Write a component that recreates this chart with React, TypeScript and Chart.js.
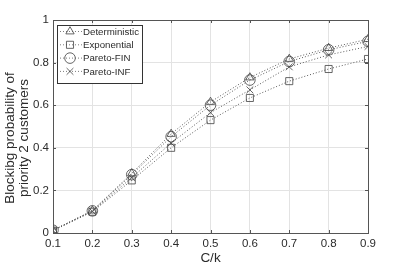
import React, { useEffect, useRef } from "react";
import { Chart, registerables } from "chart.js";

Chart.register(...registerables);

const ratios = [0.1, 0.2, 0.3, 0.4, 0.5, 0.6, 0.7, 0.8, 0.9];
const deterministic = [0.013, 0.105, 0.28, 0.465, 0.615, 0.73, 0.817, 0.868, 0.91];
const exponential = [0.011, 0.1, 0.247, 0.4, 0.53, 0.634, 0.713, 0.77, 0.817];
const paretoFin = [0.013, 0.104, 0.274, 0.452, 0.6, 0.718, 0.805, 0.86, 0.9];
const paretoInf = [0.012, 0.102, 0.26, 0.422, 0.565, 0.672, 0.78, 0.836, 0.876];

const seriesNames = ["Deterministic", "Exponential", "Pareto-FIN", "Pareto-INF"];
const seriesStyles = ["triangle", "rect", "circle", "crossRot"];
const seriesRadius = [4.8, 5, 5.3, 4.8];
const yTitleLines = ["Blockibg probability of", "priority 2 customers"];
const xTitle = "C/k";

const FONT = '"Liberation Sans", Arial, sans-serif';
const TXT = "#2b2b2b";
const LINE = "#5a5a5a";
const MARK = "#404040";

function drawMarker(ctx: CanvasRenderingContext2D, style: string, x: number, y: number, r: number) {
  ctx.beginPath();
  if (style === "triangle") {
    ctx.moveTo(x, y - r);
    ctx.lineTo(x + r * Math.sin(Math.PI / 3), y + r * 0.5);
    ctx.lineTo(x - r * Math.sin(Math.PI / 3), y + r * 0.5);
    ctx.closePath();
  } else if (style === "rect") {
    const h = r * Math.SQRT1_2;
    ctx.rect(x - h, y - h, 2 * h, 2 * h);
  } else if (style === "circle") {
    ctx.arc(x, y, r, 0, Math.PI * 2);
  } else {
    const h = r * Math.SQRT1_2;
    ctx.moveTo(x - h, y - h);
    ctx.lineTo(x + h, y + h);
    ctx.moveTo(x + h, y - h);
    ctx.lineTo(x - h, y + h);
  }
  ctx.stroke();
}

const framePlugin = {
  id: "frame",
  afterDraw(chart: any) {
    const ctx: CanvasRenderingContext2D = chart.ctx;
    const { left, right, top, bottom } = chart.chartArea;
    const xs = chart.scales.x;
    const ys = chart.scales.y;
    ctx.save();
    ctx.strokeStyle = "#555555";
    ctx.lineWidth = 1;
    ctx.setLineDash([]);
    ctx.strokeRect(Math.round(left) + 0.5, Math.round(top) + 0.5, Math.round(right - left), Math.round(bottom - top));
    const tl = 3;
    ctx.beginPath();
    xs.ticks.forEach((t: any) => {
      const px = Math.round(xs.getPixelForValue(t.value)) + 0.5;
      ctx.moveTo(px, bottom);
      ctx.lineTo(px, bottom - tl);
      ctx.moveTo(px, top);
      ctx.lineTo(px, top + tl);
    });
    ys.ticks.forEach((t: any) => {
      const py = Math.round(ys.getPixelForValue(t.value)) + 0.5;
      ctx.moveTo(left, py);
      ctx.lineTo(left + tl, py);
      ctx.moveTo(right, py);
      ctx.lineTo(right - tl, py);
    });
    ctx.stroke();

    ctx.fillStyle = TXT;
    ctx.font = `13.5px ${FONT}`;
    ctx.textAlign = "center";
    ctx.textBaseline = "middle";
    const cy = 138;
    [10, 24].forEach((cx, i) => {
      ctx.save();
      ctx.translate(cx, cy);
      ctx.rotate(-Math.PI / 2);
      ctx.fillText(yTitleLines[i], 0, 0);
      ctx.restore();
    });
    ctx.fillText(xTitle, (left + right) / 2, 258);

    const bx = 57.5, by = 25.5, bw = 85, bh = 58;
    ctx.fillStyle = "#ffffff";
    ctx.fillRect(bx, by, bw, bh);
    ctx.strokeStyle = "#333333";
    ctx.strokeRect(bx, by, bw, bh);
    ctx.font = `9.7px ${FONT}`;
    ctx.textAlign = "left";
    seriesNames.forEach((name, i) => {
      const ry = 31.5 + i * 13.3;
      ctx.strokeStyle = LINE;
      ctx.lineWidth = 0.8;
      ctx.setLineDash([1, 2]);
      ctx.beginPath();
      ctx.moveTo(60, ry);
      ctx.lineTo(82, ry);
      ctx.stroke();
      ctx.setLineDash([]);
      ctx.strokeStyle = MARK;
      drawMarker(ctx, seriesStyles[i], 70, ry, seriesRadius[i]);
      ctx.fillStyle = TXT;
      ctx.fillText(name, 83, ry + 0.5);
    });
    ctx.restore();
  },
};

export default function App() {
  const ref = useRef<HTMLCanvasElement | null>(null);
  useEffect(() => {
    if (!ref.current) return;
    const series = [deterministic, exponential, paretoFin, paretoInf];
    const chart = new Chart(ref.current, {
      type: "line",
      data: {
        datasets: series.map((vals, i) => ({
          label: seriesNames[i],
          data: ratios.map((r, j) => ({ x: r, y: vals[j] })),
          borderColor: LINE,
          borderWidth: 1,
          borderDash: [1, 2],
          pointStyle: seriesStyles[i] as any,
          pointRadius: seriesRadius[i],
          pointBorderColor: MARK,
          pointBorderWidth: 0.8,
          pointBackgroundColor: "rgba(0,0,0,0)",
          fill: false,
          tension: 0,
        })),
      },
      options: {
        responsive: false,
        animation: false,
        layout: { padding: { top: 20, right: 39, left: 0, bottom: 0 } },
        plugins: { legend: { display: false }, tooltip: { enabled: false } },
        scales: {
          x: {
            type: "linear",
            min: 0.1,
            max: 0.9,
            afterFit: (s: any) => { s.height = 34; },
            ticks: {
              stepSize: 0.1,
              padding: 4,
              color: TXT,
              font: { family: FONT, size: 11.5 },
              maxRotation: 0,
              callback: (v: any) => Number(v).toFixed(1),
            },
            grid: { color: "#e3e3e3", drawTicks: false },
            border: { display: false },
          },
          y: {
            type: "linear",
            min: 0,
            max: 1,
            afterFit: (s: any) => { s.width = 53; },
            ticks: {
              stepSize: 0.2,
              padding: 4,
              color: TXT,
              font: { family: FONT, size: 11.5 },
              callback: (v: any) => {
                const n = Number(v);
                if (Math.abs(n) < 1e-9) return "0";
                if (Math.abs(n - 1) < 1e-9) return "1";
                return n.toFixed(1);
              },
            },
            grid: { color: "#e3e3e3", drawTicks: false },
            border: { display: false },
          },
        },
      },
      plugins: [framePlugin],
    });
    return () => chart.destroy();
  }, []);
  return (
    <div style={{ position: "absolute", left: 0, top: 0, width: 407, height: 267, background: "#fff" }}>
      <canvas ref={ref} width={407} height={267} style={{ width: 407, height: 267, display: "block" }} />
    </div>
  );
}
